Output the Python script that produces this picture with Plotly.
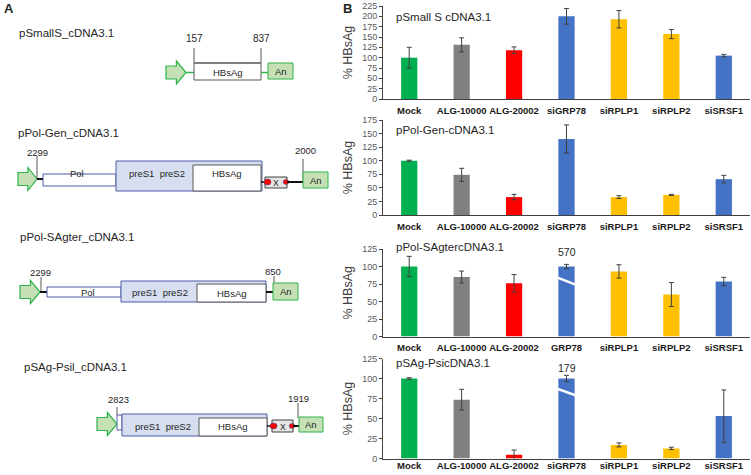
import plotly.graph_objects as go

# ---------------- data ----------------
categories = ["Mock", "ALG-10000", "ALG-20002", "siGRP78", "siRPLP1", "siRPLP2", "siSRSF1"]
categories_sagter = ["Mock", "ALG-10000", "ALG-20002", "GRP78", "siRPLP1", "siRPLP2", "siSRSF1"]
bar_colors = ["#00B050", "#808080", "#FF0000", "#4472C4", "#FFC000", "#FFC000", "#4472C4"]

panel_titles = ["pSmall S cDNA3.1", "pPol-Gen-cDNA3.1", "pPol-SAgtercDNA3.1", "pSAg-PsicDNA3.1"]

small_s_vals = [100, 131, 118, 200, 193, 157, 105]
small_s_err = [25, 17, 8, 19, 21, 11, 3]
pol_gen_vals = [100, 74, 33, 140, 33, 37, 66]
pol_gen_err = [1, 12, 5, 26, 2.5, 1, 7]
pol_sagter_vals = [100, 85, 76, 100, 93, 60, 78.5]   # GRP78 bar broken, true value below
pol_sagter_err = [14.5, 8.5, 12.5, 3, 9.5, 17, 6]
sag_psil_vals = [100, 73.5, 4.6, 100, 17, 12.6, 53]  # siGRP78 bar broken, true value below
sag_psil_err = [1, 13, 6, 4, 2.5, 1.5, 32.7]
broken_true_vals = [None, None, 570, 179]

y_ranges = [225, 175, 125, 125]
y_tick_step = 25

# ---------------- layout helpers (pixel -> paper) ----------------
W, H = 751, 475
def px(x):
    return x / W
def py(y):
    return 1 - y / H

FONT = "Arial, Liberation Sans, sans-serif"
TXT = "#262626"

fig = go.Figure()

panels = [
    (categories, small_s_vals, small_s_err),
    (categories, pol_gen_vals, pol_gen_err),
    (categories_sagter, pol_sagter_vals, pol_sagter_err),
    (categories, sag_psil_vals, sag_psil_err),
]
# pixel rows of each panel (top, bottom)
rows = [(6, 99), (120, 215), (249, 336.5), (358.5, 458.5)]
label_standoff = [3, 3, 2, -2]
x_left, x_right = 383, 750
title_y = [17, 130, 247, 363]

shapes = []
annotations = []

for i, (cats, vals, errs) in enumerate(panels):
    n = "" if i == 0 else str(i + 1)
    fig.add_trace(go.Bar(
        x=cats, y=vals, marker=dict(color=bar_colors, line=dict(width=0)),
        width=0.31,
        error_y=dict(type="data", array=errs, visible=True, color="#404040", thickness=1, width=2.5),
        xaxis="x" + n, yaxis="y" + n, showlegend=False, hoverinfo="skip",
    ))
    top, bot = rows[i]
    fig.layout["xaxis" + n] = dict(
        domain=[px(x_left), px(x_right)], anchor="y" + n, type="category",
        range=[-0.5, 6.5], showline=True, linecolor="#404040", linewidth=1,
        ticks="", showgrid=False, automargin=False, ticklabelstandoff=label_standoff[i],
        tickfont=dict(family=FONT, size=9.5, color="#1a1a1a", weight="bold"),
    )
    fig.layout["yaxis" + n] = dict(
        domain=[py(bot), py(top)], anchor="x" + n,
        range=[0, y_ranges[i]], dtick=y_tick_step, tick0=0,
        showline=True, linecolor="#404040", linewidth=1,
        ticks="outside", ticklen=3, tickcolor="#404040", showgrid=False,
        zeroline=False, automargin=False,
        tickfont=dict(family=FONT, size=9, color="#595959"),
        title=dict(text="% HBsAg", font=dict(family=FONT, size=12.5, color="#404040"), standoff=6),
    )
    annotations.append(dict(
        text=panel_titles[i], xref="paper", yref="paper", x=px(x_left + 11), y=py(title_y[i]),
        xanchor="left", yanchor="middle", showarrow=False,
        font=dict(family=FONT, size=11.5, color=TXT),
    ))
    if broken_true_vals[i] is not None:
        annotations.append(dict(
            text=str(broken_true_vals[i]), xref="x" + n, yref="paper", x=3,
            y=py(title_y[i] + 5), showarrow=False, xanchor="center", yanchor="middle",
            font=dict(family=FONT, size=10.5, color=TXT),
        ))
        # white break slash across the bar
        hi, lo = (84, 74) if i == 2 else (87, 79)
        shapes.append(dict(type="line", xref="x" + n, yref="y" + n,
                           x0=2.83, x1=3.17, y0=hi, y1=lo,
                           line=dict(color="white", width=2.5)))

# ---------------- schematic (panel A) ----------------
GREEN_FILL = "#C5E0B4"
GREEN_LINE = "#2DB34A"
BLUE_FILL = "#D6DEF0"
BLUE_LINE = "#4E5CA6"
GRAY_LINE = "#595959"
X_FILL = "#E4E4E4"

def rect(x0, y0, x1, y1, fill, line, w=1):
    shapes.append(dict(type="rect", xref="paper", yref="paper",
                       x0=px(x0), x1=px(x1), y0=py(y1), y1=py(y0),
                       fillcolor=fill, line=dict(color=line, width=w), layer="above"))

def line(x0, y0, x1, y1, color, w=1):
    shapes.append(dict(type="line", xref="paper", yref="paper",
                       x0=px(x0), x1=px(x1), y0=py(y0), y1=py(y1),
                       line=dict(color=color, width=w), layer="above"))

def dot(xc, yc, r, color="#FF0000"):
    shapes.append(dict(type="circle", xref="paper", yref="paper",
                       x0=px(xc - r), x1=px(xc + r), y0=py(yc + r * 0.85), y1=py(yc - r * 0.85),
                       fillcolor=color, line=dict(color="#3050A0", width=0.5), layer="above"))

def arrow(x0, x1, yc):
    xb = x0 + (x1 - x0) * 0.52
    hb, hh = 6.5, 11.5
    pts = [(x0, yc - hb), (xb, yc - hb), (xb, yc - hh), (x1, yc), (xb, yc + hh),
           (xb, yc + hb), (x0, yc + hb)]
    path = "M " + " L ".join(f"{px(a):.5f},{py(b):.5f}" for a, b in pts) + " Z"
    shapes.append(dict(type="path", xref="paper", yref="paper", path=path,
                       fillcolor=GREEN_FILL, line=dict(color=GREEN_LINE, width=1.2), layer="above"))

def text(x, y, s, size=9.5, anchor="center", bold=False):
    annotations.append(dict(text=s, xref="paper", yref="paper", x=px(x), y=py(y),
                            xanchor=anchor, yanchor="middle", showarrow=False,
                            font=dict(family=FONT, size=size, color=TXT,
                                      weight="bold" if bold else "normal")))

text(2, 9, "A", size=13, anchor="left", bold=True)
text(341, 9, "B", size=13, anchor="left", bold=True)

# 1) pSmallS_cDNA3.1
text(17, 33, "pSmallS_cDNA3.1", size=11.5, anchor="left")
arrow(166, 186, 72.5)
line(186, 72.5, 194, 72.5, GREEN_LINE, 1.5)
rect(194, 63, 261, 80, "white", GRAY_LINE)
line(194, 63, 261, 63, "#7F7F7F", 2)
line(194, 48, 194, 63, GRAY_LINE, 1)
line(261, 48, 261, 63, GRAY_LINE, 1)
text(194, 39, "157", size=10)
text(261, 39, "837", size=10)
text(228, 72.5, "HBsAg", size=9.5)
line(261, 72.5, 268, 72.5, GREEN_LINE, 1.5)
rect(268, 63, 293, 79, GREEN_FILL, GREEN_LINE)
text(281, 71.5, "An", size=9.5)

# 2) pPol-Gen_cDNA3.1
text(16, 133, "pPol-Gen_cDNA3.1", size=11.5, anchor="left")
arrow(18, 37, 179)
line(37, 156, 37, 179, GRAY_LINE, 1)
text(37, 152, "2299", size=9.5)
line(37, 179, 43, 179, "#111111", 2)
rect(43, 174, 116, 186, "white", BLUE_LINE)
text(77, 173.5, "Pol", size=9.5)
rect(116, 161, 262, 191, BLUE_FILL, BLUE_LINE)
text(157, 173, "preS1  preS2", size=9.5)
rect(193, 165, 261, 191, "white", GRAY_LINE)
text(227, 174, "HBsAg", size=9.5)
line(261, 182, 265, 182, "#111111", 1.5)
rect(265, 177, 287, 188, X_FILL, "#404040")
text(276, 182.5, "X", size=8.5)
dot(267.5, 182, 3.6)
dot(286, 182, 2.8)
line(287, 182, 303, 182, "#111111", 2)
line(303, 159, 303, 182, GRAY_LINE, 1)
text(305, 151, "2000", size=9.5)
rect(303, 172, 328, 188, GREEN_FILL, GREEN_LINE)
text(316, 180, "An", size=9.5)

# 3) pPol-SAgter_cDNA3.1
text(18, 237, "pPol-SAgter_cDNA3.1", size=11.5, anchor="left")
arrow(20, 40, 292)
line(41, 277, 41, 292, GRAY_LINE, 1)
text(40, 272, "2299", size=9.5)
line(40, 292, 47, 292, "#111111", 2)
rect(47, 287, 121, 297, "white", BLUE_LINE)
text(88, 292, "Pol", size=9.5)
rect(121, 281, 266, 302, BLUE_FILL, BLUE_LINE)
text(160, 292.5, "preS1  preS2", size=9.5)
rect(197, 284, 266, 302, "white", GRAY_LINE)
text(232, 293, "HBsAg", size=9.5)
line(266, 292, 274, 292, "#111111", 2)
line(274, 276, 274, 292, GRAY_LINE, 1)
text(273, 271, "850", size=9.5)
rect(273, 283, 298, 300, GREEN_FILL, GREEN_LINE)
text(286, 291.5, "An", size=9.5)

# 4) pSAg-Psil_cDNA3.1
text(22, 367, "pSAg-Psil_cDNA3.1", size=11.5, anchor="left")
arrow(97, 117, 424)
line(117, 407, 117, 415, GRAY_LINE, 1)
text(118, 399, "2823", size=9.5)
rect(117, 415, 122, 430, "white", BLUE_LINE)
rect(122, 414, 267, 436, BLUE_FILL, BLUE_LINE)
text(163, 426, "preS1  preS2", size=9.5)
rect(199, 418, 267, 436, "white", GRAY_LINE)
text(233, 426.5, "HBsAg", size=9.5)
line(267, 426, 272, 426, "#111111", 1.5)
rect(272, 420, 293, 432, X_FILL, "#404040")
text(282.5, 426.5, "X", size=8.5)
dot(273.5, 426, 3.6)
dot(292, 426, 2.8)
line(293, 426, 299, 426, "#111111", 2)
line(298, 403, 298, 418, GRAY_LINE, 1)
text(298, 398, "1919", size=9.5)
rect(299, 417, 323, 432, GREEN_FILL, GREEN_LINE)
text(311, 424.5, "An", size=9.5)

fig.update_layout(
    width=W, height=H, margin=dict(l=0, r=0, t=0, b=0),
    paper_bgcolor="white", plot_bgcolor="white",
    shapes=shapes, annotations=annotations, bargap=0.69,
    font=dict(family=FONT), hovermode=False,
)

fig.write_html("out.html", config={"displayModeBar": False},
               post_script="document.body.style.margin='0px';document.body.style.padding='0px';")
